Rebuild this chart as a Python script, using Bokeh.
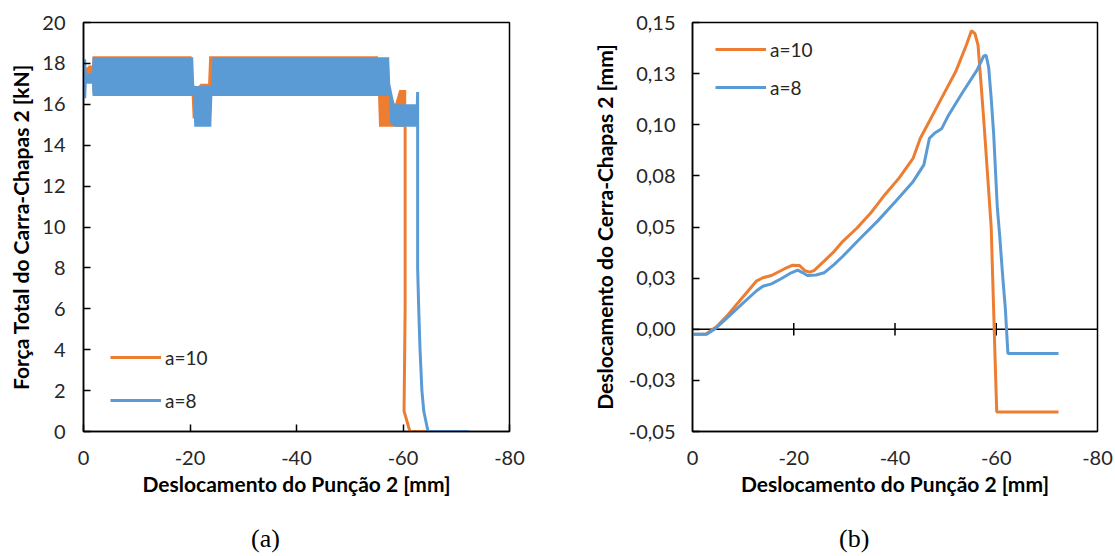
from bokeh.plotting import figure
from bokeh.layouts import row, column
from bokeh.models import Range1d, FixedTicker, Legend, LegendItem, Span, Div
from bokeh.embed import file_html
from bokeh.resources import INLINE

ORANGE = "#ED7D31"
BLUE = "#5B9BD5"
FONT = "Lato"
series_names = ["a=10", "a=8"]
captions = ["(a)", "(b)"]

# ---------------- Panel (a): Força Total do Carra-Chapas 2 ----------------
xa_ticks = [0, -20, -40, -60, -80]
xa_labels = ["0", "-20", "-40", "-60", "-80"]
ya_ticks = [0, 2, 4, 6, 8, 10, 12, 14, 16, 18, 20]
ya_labels = ["0", "2", "4", "6", "8", "10", "12", "14", "16", "18", "20"]

# oscillation envelope (min / max of the noisy force signal)
a10_band_x = [0, -1.0, -1.6, -1.7, -20.3, -20.5, -21.3, -22.0, -23.4, -23.6, -55.3, -55.5, -57.5, -58.5, -59.3, -60.6]
a10_band_lo = [17.2, 17.2, 17.2, 16.5, 16.5, 15.3, 15.3, 16.3, 16.5, 16.5, 16.5, 14.9, 14.9, 14.9, 14.9, 14.9]
a10_band_hi = [17.6, 17.9, 17.9, 18.35, 18.35, 17.0, 16.8, 17.0, 17.0, 18.35, 18.35, 16.6, 16.6, 16.0, 16.7, 16.7]
a10_drop_x = [-60.4, -60.4, -60.2, -61.3, -64.4]
a10_drop_y = [14.9, 6.0, 1.0, 0.0, 0.0]

a8_band_x = [0, -0.5, -0.6, -1.6, -1.7, -20.6, -20.8, -24.0, -24.2, -57.4, -57.6, -58.4, -62.75]
a8_band_lo = [16.3, 16.3, 17.0, 17.0, 16.4, 16.4, 14.9, 14.9, 16.4, 16.4, 15.1, 14.9, 14.9]
a8_band_hi = [18.2, 18.2, 17.5, 17.5, 18.3, 18.3, 16.9, 16.9, 18.3, 18.3, 17.0, 16.0, 16.0]
a8_drop_x = [-62.6, -62.75, -62.75, -62.95, -63.2, -63.55, -63.9, -64.7, -72.4]
a8_drop_y = [15.0, 16.6, 8.0, 6.0, 4.0, 2.0, 1.0, 0.0, 0.0]

# ---------------- Panel (b): Deslocamento do Cerra-Chapas 2 ----------------
xb_ticks = [0, -20, -40, -60, -80]
xb_labels = ["0", "-20", "-40", "-60", "-80"]
yb_ticks = [-0.05, -0.025, 0.0, 0.025, 0.05, 0.075, 0.10, 0.125, 0.15]
yb_labels = ["-0,05", "-0,03", "0,00", "0,03", "0,05", "0,08", "0,10", "0,13", "0,15"]
zero_axis_ticks = [-20, -40, -60]

b10_x = [0, -2.6, -4.8, -7.1, -9.0, -12.6, -13.9, -15.6, -18.2, -19.8, -21.1, -22.2, -23.1, -24.0,
         -26.0, -28.0, -29.7, -32.5, -35.2, -38.0, -40.8, -43.6, -45.0, -46.4, -49.2, -52.0, -54.1,
         -55.1, -55.8, -56.4, -57.0, -57.6, -58.3, -59.0, -59.3, -59.6, -59.9, -60.1, -72.3]
b10_y = [-0.0024, -0.0024, 0.0013, 0.0073, 0.013, 0.0235, 0.0252, 0.0263, 0.0296, 0.0313, 0.0312,
         0.0287, 0.0279, 0.0287, 0.0333, 0.0381, 0.043, 0.0495, 0.0568, 0.0658, 0.0739, 0.0837,
         0.0934, 0.0999, 0.113, 0.126, 0.139, 0.146, 0.1445, 0.139, 0.12, 0.10, 0.075, 0.05, 0.025,
         0.0, -0.025, -0.0405, -0.0405]

b8_x = [0, -2.8, -4.5, -7.1, -9.7, -12.6, -13.9, -15.6, -17.5, -19.5, -20.8, -21.8, -22.7, -24.4,
        -26.0, -28.0, -29.7, -33.2, -36.6, -40.1, -43.6, -45.7, -46.8, -47.8, -49.2, -50.6, -53.4,
        -56.2, -57.5, -58.0, -58.5, -59.0, -59.5, -60.2, -60.7, -61.3, -61.8, -62.3, -72.3]
b8_y = [-0.0024, -0.0024, 0.0003, 0.0062, 0.0122, 0.0187, 0.021, 0.0222, 0.0247, 0.0276, 0.0289,
        0.0276, 0.0263, 0.0265, 0.0276, 0.0317, 0.0357, 0.0446, 0.053, 0.0625, 0.0723, 0.0804,
        0.0934, 0.0958, 0.098, 0.1048, 0.116, 0.1267, 0.1335, 0.134, 0.128, 0.113, 0.095, 0.06,
        0.045, 0.025, 0.01, -0.0118, -0.0118]


def style(p, xticks, xlabels, yticks, ylabels, xtitle, ytitle, xtick_in, ylab_standoff, ylbl_standoff):
    p.xgrid.visible = False
    p.ygrid.visible = False
    p.outline_line_color = "black"
    p.outline_line_width = 1.5
    p.background_fill_color = "white"
    p.border_fill_color = "white"
    for ax in (p.xaxis[0], p.yaxis[0]):
        ax.axis_line_color = "black"
        ax.axis_line_width = 1.5
        ax.major_tick_line_color = "black"
        ax.major_tick_line_width = 1.5
        ax.major_tick_out = 0
        ax.minor_tick_line_color = None
        ax.major_label_text_font = FONT
        ax.major_label_text_font_size = "20px"
        ax.major_label_text_color = "#262626"
        ax.axis_label_text_font = FONT
        ax.axis_label_text_font_size = "21px"
        ax.axis_label_text_font_style = "bold"
        ax.axis_label_text_color = "black"
    xa = p.xaxis[0]
    xa.ticker = FixedTicker(ticks=xticks)
    xa.major_label_overrides = {t: l for t, l in zip(xticks, xlabels)}
    xa.major_tick_in = xtick_in
    xa.major_label_standoff = 19
    xa.axis_label = xtitle
    xa.axis_label_standoff = 3
    ya = p.yaxis[0]
    ya.ticker = FixedTicker(ticks=yticks)
    ya.major_label_overrides = {t: l for t, l in zip(yticks, ylabels)}
    ya.major_tick_in = 7
    ya.major_label_standoff = ylbl_standoff
    ya.axis_label = ytitle
    ya.axis_label_standoff = ylab_standoff


def legend(p, renderers, loc, spacing):
    leg = Legend(items=[LegendItem(label=n, renderers=[r]) for n, r in zip(series_names, renderers)],
                 location=loc, orientation="vertical",
                 background_fill_alpha=0, border_line_color=None,
                 glyph_width=51, glyph_height=24, label_height=24, label_standoff=4,
                 spacing=spacing, padding=0, margin=0,
                 label_text_font=FONT, label_text_font_size="19px", label_text_color="#262626")
    p.add_layout(leg)


CAP_STYLE = {"font-family": "Liberation Serif", "font-size": "26px", "line-height": "30px",
             "color": "black", "white-space": "nowrap"}

# ----- figure (a)
pa = figure(width=560, height=518, output_backend="svg", toolbar_location=None,
            x_range=Range1d(0, -80), y_range=Range1d(0, 20),
            min_border_left=83, min_border_right=51, min_border_top=22, min_border_bottom=87)
style(pa, xa_ticks, xa_labels, ya_ticks, ya_labels,
      "Deslocamento do Punção 2 [mm]", "Força Total do Carra-Chapas 2 [kN]", 7, 6, 18)

pa.varea(x=a10_band_x, y1=a10_band_lo, y2=a10_band_hi, fill_color=ORANGE)
ra10 = pa.line(a10_drop_x, a10_drop_y, line_color=ORANGE, line_width=3)
pa.varea(x=a8_band_x, y1=a8_band_lo, y2=a8_band_hi, fill_color=BLUE)
ra8 = pa.line(a8_drop_x, a8_drop_y, line_color=BLUE, line_width=3)
legend(pa, [ra10, ra8], (27, 19), 19)

# ----- figure (b)
pb = figure(width=555, height=518, output_backend="svg", toolbar_location=None,
            x_range=Range1d(0, -80), y_range=Range1d(-0.05, 0.15),
            min_border_left=132, min_border_right=18, min_border_top=22, min_border_bottom=85)
style(pb, xb_ticks, xb_labels, yb_ticks, yb_labels,
      "Deslocamento do Punção 2 [mm]", "Deslocamento do Cerra-Chapas 2 [mm]", 0, 9, 17)

pb.add_layout(Span(location=0, dimension="width", line_color="black", line_width=1.5, level="underlay"))
pb.segment(x0=zero_axis_ticks, y0=[-0.003] * len(zero_axis_ticks),
           x1=zero_axis_ticks, y1=[0.003] * len(zero_axis_ticks), line_color="black", line_width=1.5)
rb10 = pb.line(b10_x, b10_y, line_color=ORANGE, line_width=3)
rb8 = pb.line(b8_x, b8_y, line_color=BLUE, line_width=3)
legend(pb, [rb10, rb8], (23, 332), 14)

# ----- captions
cap_a = Div(text=captions[0], width=40, height=30, margin=(6, 0, 0, 251), styles=CAP_STYLE)
cap_b = Div(text=captions[1], width=40, height=30, margin=(6, 0, 0, 548), styles=CAP_STYLE)

layout = column(row(pa, pb), row(cap_a, cap_b))
open("out.html", "w").write(file_html(layout, INLINE))
